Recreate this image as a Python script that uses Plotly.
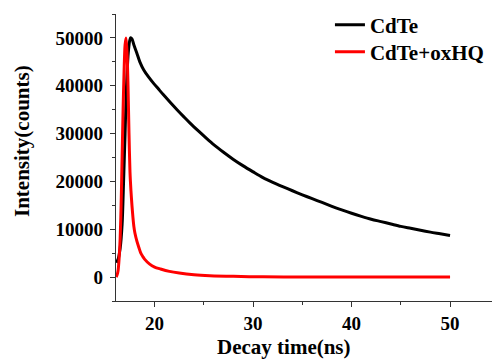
import plotly.graph_objects as go

# CdTe decay (black)
cdte_t = [16.1, 16.3, 16.5, 16.7, 16.85, 17.0, 17.15, 17.35, 17.55, 17.7, 17.9, 18.2, 18.5, 18.9,
          19.4, 19.9, 20.4, 20.9, 21.6, 22.3, 23.0, 23.6, 24.5, 25.3, 26.0, 27.0, 28.0, 29.0,
          30.0, 31.0, 32.0, 33.0, 34.0, 35.0, 36.0, 37.0, 38.0, 39.0, 40.0, 41.0, 42.0, 43.0,
          44.0, 45.0, 46.0, 47.0, 48.0, 49.0, 50.0]
cdte_i = [3000, 3800, 6000, 11000, 20000, 30000, 40000, 47500, 50000, 49800, 48500, 46800, 45000, 43300,
          41800, 40500, 39300, 38100, 36500, 34950, 33450, 32200, 30450, 28950, 27700, 26100, 24600, 23250,
          22000, 20800, 19800, 18900, 18050, 17200, 16400, 15600, 14800, 14050, 13350, 12700, 12100, 11600,
          11100, 10600, 10200, 9800, 9400, 9050, 8700]

# CdTe+oxHQ decay (red)
ox_t = [16.1, 16.2, 16.3, 16.4, 16.5, 16.6, 16.7, 16.8, 16.9, 17.0, 17.1, 17.2, 17.3, 17.4,
        17.5, 17.6, 17.7, 17.8, 17.9, 18.0, 18.2, 18.4, 18.6, 18.8, 19.0, 19.5, 20.0, 20.6,
        21.5, 22.5, 24.0, 25.6, 28.0, 31.0, 35.0, 40.0, 45.0, 50.0]
ox_i = [0, 500, 1500, 4000, 8000, 15000, 25000, 35000, 43000, 48500, 50000, 47000, 40000, 30000,
        22000, 18000, 15000, 12500, 10500, 9200, 7500, 6200, 5000, 4300, 3700, 2700, 2100, 1700,
        1200, 850, 500, 300, 150, 60, 20, 10, 0, 0]

x_ticks = [20, 30, 40, 50]
y_ticks = [0, 10000, 20000, 30000, 40000, 50000]

FONT = "Liberation Serif"

fig = go.Figure()
fig.add_trace(go.Scatter(x=cdte_t, y=cdte_i, mode="lines", name="CdTe", legend="legend",
                         line=dict(color="black", width=3, shape="spline", smoothing=0.8)))
fig.add_trace(go.Scatter(x=ox_t, y=ox_i, mode="lines", name="CdTe+oxHQ", legend="legend2",
                         line=dict(color="#ff0000", width=3, shape="spline", smoothing=0.8)))

legend_common = dict(xanchor="left", yanchor="middle", bgcolor="rgba(0,0,0,0)",
                     font=dict(family=FONT, size=21, weight="bold", color="black"), itemwidth=30)

fig.update_layout(
    width=492, height=359,
    margin=dict(l=116, r=0, t=14, b=58),
    paper_bgcolor="white", plot_bgcolor="white",
    font=dict(family=FONT, size=19, color="black", weight="bold"),
    showlegend=True,
    legend=dict(x=0.569, y=0.9617, **legend_common),
    legend2=dict(x=0.569, y=0.8676, **legend_common),
    xaxis=dict(range=[16.08, 54.26], tickvals=x_ticks, tickformat="d", showgrid=False, zeroline=False,
               showline=True, linecolor="#333", linewidth=1.3, ticks="outside", ticklen=5,
               tickwidth=1.2, tickcolor="#333",
               minor=dict(dtick=5, tick0=0, ticks="outside", ticklen=3, tickwidth=1.2, tickcolor="#333"),
               tickfont=dict(family=FONT, size=19, weight="bold")),
    yaxis=dict(range=[-5000, 55000], tickvals=y_ticks, tickformat="d", showgrid=False, zeroline=False,
               showline=True, linecolor="#333", linewidth=1.3, ticks="outside", ticklen=5,
               tickwidth=1.2, tickcolor="#333", ticklabelstandoff=3,
               minor=dict(dtick=5000, tick0=0, ticks="outside", ticklen=3, tickwidth=1.2, tickcolor="#333"),
               tickfont=dict(family=FONT, size=19, weight="bold")),
    annotations=[
        dict(text="Decay time(ns)", xref="paper", yref="paper", x=0.4468, y=-0.1603,
             xanchor="center", yanchor="middle", showarrow=False,
             font=dict(family=FONT, size=21, weight="bold", color="black")),
        dict(text="Intensity(counts)", xref="paper", yref="paper", x=-0.25, y=0.5575,
             xanchor="center", yanchor="middle", showarrow=False, textangle=-90,
             font=dict(family=FONT, size=21, weight="bold", color="black")),
    ],
)

fig.write_html("out.html")
